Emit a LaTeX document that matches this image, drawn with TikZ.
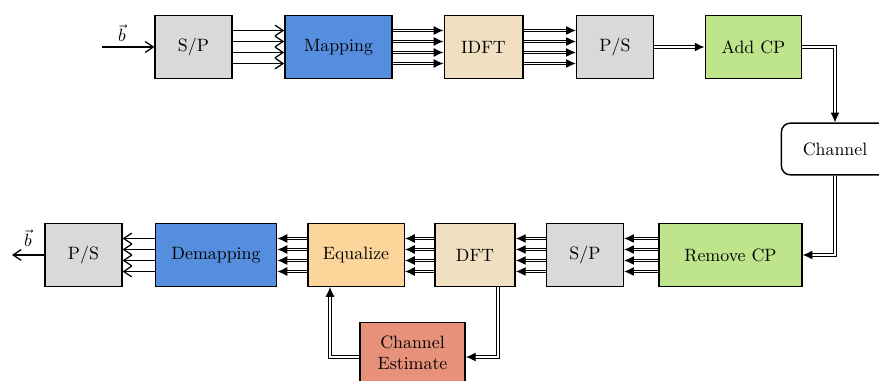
\documentclass[tikz,border=0pt]{standalone}
\usepackage{amsmath}
\usetikzlibrary{arrows.meta,calc}
\definecolor{spgray}{RGB}{217,217,217}
\definecolor{mapblue}{RGB}{86,142,222}
\definecolor{dftbeige}{RGB}{240,224,193}
\definecolor{cpgreen}{RGB}{190,229,140}
\definecolor{eqorange}{RGB}{251,213,153}
\definecolor{estsalmon}{RGB}{232,145,122}

\begin{document}
\begin{tikzpicture}[x=0.56pt,y=-0.56pt,
    blk/.style={draw,thick,minimum height=35pt,inner sep=2pt,align=center},
    bus/.style={double,double distance=1.1pt,line width=0.55pt,-{Latex[length=5.5pt,width=5pt]}},
    wire/.style={line width=0.7pt,-{Straight Barb[length=4.5pt,width=6pt]}}]
  \useasboundingbox (0,0) rectangle (879,381);

  % transmitter
  \node[blk,fill=spgray,minimum width=43pt]   (sptx)  at (193.5,47) {S/P};
  \node[blk,fill=mapblue,minimum width=60pt]  (map)   at (338.5,47) {Mapping};
  \node[blk,fill=dftbeige,minimum width=44pt] (idft)  at (483.5,47) {IDFT};
  \node[blk,fill=spgray,minimum width=43pt]   (pstx)  at (615,47)   {P/S};
  \node[blk,fill=cpgreen,minimum width=54pt]  (addcp) at (753.5,47) {Add CP};
  \node[draw,thick,rounded corners=5pt,minimum width=60pt,minimum height=29pt] (chan) at (835,149) {Channel};

  % receiver
  \node[blk,fill=cpgreen,minimum width=80pt]  (remcp) at (730.5,255) {Remove CP};
  \node[blk,fill=spgray,minimum width=43pt]   (sprx)  at (585,255)   {S/P};
  \node[blk,fill=dftbeige,minimum width=45pt] (dft)   at (475,255)   {DFT};
  \node[blk,fill=eqorange,minimum width=54pt] (eq)    at (356,255)   {Equalize};
  \node[blk,fill=mapblue,minimum width=68pt]  (demap) at (216,255)   {Demapping};
  \node[blk,fill=spgray,minimum width=43pt]   (psrx)  at (83.5,255)  {P/S};
  \node[blk,fill=estsalmon,minimum width=59pt,minimum height=34pt] (chest) at (412.5,353) {Channel\\Estimate};

  \coordinate (bin)  at (102,47);
  \coordinate (bout) at (12,255);
  \node (bvin)  at (122,33)  {$\vec{b}$};
  \node (bvout) at (28,238)  {$\vec{b}$};

  % connectors
  \draw[wire] (bin) -- (sptx.west);
  \foreach \o in {-16.5,-5.5,5.5,16.5} {
    \draw[wire] ($(sptx.east)+(0,\o)$) -- ($(map.west)+(0,\o)$);
    \draw[bus]  ($(map.east)+(0,\o)$)  -- ($(idft.west)+(0,\o)$);
    \draw[bus]  ($(idft.east)+(0,\o)$) -- ($(pstx.west)+(0,\o)$);
    \draw[bus]  ($(remcp.west)+(0,\o)$) -- ($(sprx.east)+(0,\o)$);
    \draw[bus]  ($(sprx.west)+(0,\o)$)  -- ($(dft.east)+(0,\o)$);
    \draw[bus]  ($(dft.west)+(0,\o)$)   -- ($(eq.east)+(0,\o)$);
    \draw[bus]  ($(eq.west)+(0,\o)$)    -- ($(demap.east)+(0,\o)$);
    \draw[wire] ($(demap.west)+(0,\o)$) -- ($(psrx.east)+(0,\o)$);
  }
  \draw[bus] (pstx.east) -- (addcp.west);
  \draw[bus] (addcp.east) -| (chan.north);
  \draw[bus] (chan.south) |- (remcp.east);
  \draw[wire] (psrx.west) -- (bout);
  \draw[bus] ($(dft.south)+(23,0)$) |- ($(chest.east)+(0,4)$);
  \draw[bus] ($(chest.west)+(0,4)$) -| ($(eq.south)+(-26,0)$);
\end{tikzpicture}
\end{document}
